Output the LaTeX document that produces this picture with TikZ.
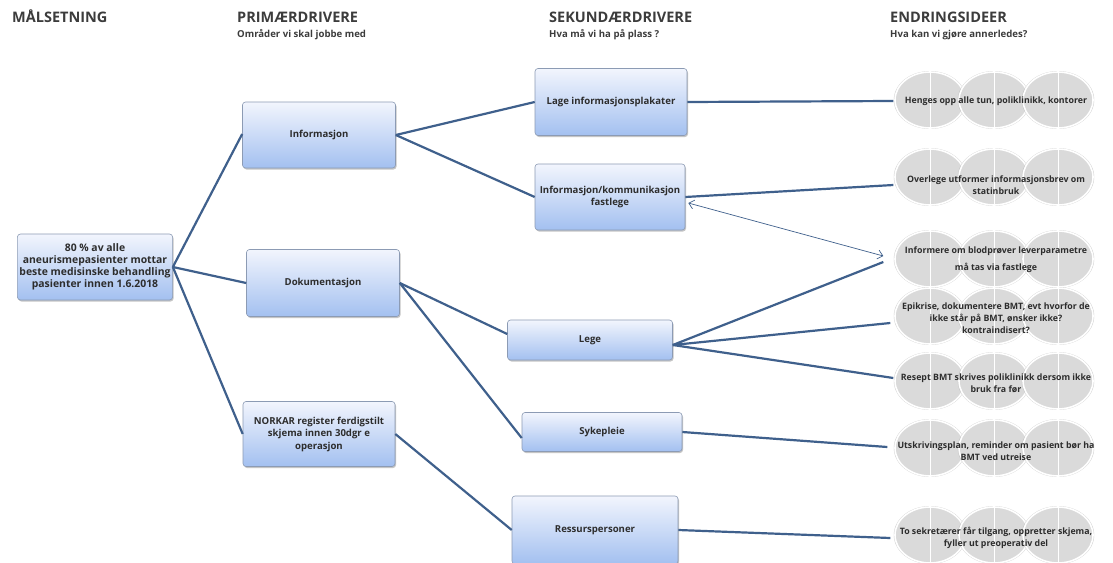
\documentclass[tikz,border=0pt]{standalone}
\usepackage{fontspec}
\setmainfont{Open Sans}
\usetikzlibrary{shapes.geometric,shadows,arrows.meta}
\definecolor{conn}{RGB}{63,96,140}
\definecolor{boxtop}{RGB}{242,245,253}
\definecolor{boxbot}{RGB}{163,192,240}
\definecolor{boxedge}{RGB}{140,155,180}
\definecolor{piefill}{RGB}{218,218,218}
\definecolor{txt}{RGB}{45,45,45}
\definecolor{hdr}{RGB}{60,60,60}
\tikzset{
  hdrtitle/.style={anchor=base west, text=hdr, inner sep=0pt, font=\bfseries\fontsize{14.5}{16}\selectfont},
  hdrsub/.style={anchor=base west, text=hdr, inner sep=0pt, font=\bfseries\fontsize{9.6}{11}\selectfont},
  drvbox/.style={rounded corners=3pt, draw=boxedge, line width=0.6pt, top color=boxtop, bottom color=boxbot,
     drop shadow={shadow xshift=1pt, shadow yshift=-1.5pt, fill=black!45, opacity=0.5},
     align=center, text=txt, inner sep=2pt, font=\bfseries\fontsize{9.6}{12.5}\selectfont},
  pie/.style={ellipse, minimum width=70pt, minimum height=56pt, inner sep=0pt, fill=piefill, draw=white, line width=1.6pt,
     drop shadow={shadow xshift=0pt, shadow yshift=0pt, shadow scale=1.035, fill=black!30, opacity=0.6}},
  idea/.style={minimum width=205pt, minimum height=54pt, inner sep=0pt, align=center, text=txt,
     font=\bfseries\fontsize{8.8}{12}\selectfont},
  link/.style={draw=conn, line width=2.2pt},
  thin/.style={draw=conn, line width=0.7pt, {Straight Barb[length=5pt,width=9pt]}-{Straight Barb[length=5pt,width=9pt]}}
}
\begin{document}
\begin{tikzpicture}[x=1pt,y=-1pt]
\useasboundingbox (0,0) rectangle (1113,562);
\fill[white] (0,0) rectangle (1113,562);

% headers
\node[hdrtitle] (h1) at (12,23) {MÅLSETNING};
\node[hdrtitle] (h2) at (237,23) {PRIMÆRDRIVERE};
\node[hdrsub] (s2) at (237,37) {Områder vi skal jobbe med};
\node[hdrtitle] (h3) at (549,23) {SEKUNDÆRDRIVERE};
\node[hdrsub] (s3) at (549,37) {Hva må vi ha på plass ?};
\node[hdrtitle] (h4) at (890,23) {ENDRINGSIDEER};
\node[hdrsub] (s4) at (890,37) {Hva kan vi gjøre annerledes?};

% idea backgrounds
\foreach \yy in {100,177,259,316,381,448,535} {
  \foreach \xx in {930,994,1058} {
    \node[pie] at (\xx,\yy) {};
    \draw[white, line width=0.9pt] (\xx,\yy-27) -- (\xx,\yy+27);
  }
}

% boxes
\node[drvbox, minimum width=150pt, minimum height=66pt, font=\bfseries\fontsize{10.4}{12}\selectfont] (goal) at (95,267)
  {80 \% av alle\\aneurismepasienter mottar\\beste medisinske behandling\\pasienter innen 1.6.2018};
\node[drvbox, minimum width=153pt, minimum height=66pt] (info) at (319,135) {Informasjon};
\node[drvbox, minimum width=153pt, minimum height=67pt] (dok) at (323,283) {Dokumentasjon};
\node[drvbox, minimum width=152pt, minimum height=65pt] (nork) at (319,434)
  {NORKAR register ferdigstilt\\skjema innen 30dgr e\\operasjon};
\node[drvbox, minimum width=152pt, minimum height=67pt] (plak) at (611,102) {Lage informasjonsplakater};
\node[drvbox, minimum width=150pt, minimum height=66pt] (fast) at (610,197) {Informasjon/kommunikasjon\\fastlege};
\node[drvbox, minimum width=165pt, minimum height=40pt] (lege) at (590,340) {Lege};
\node[drvbox, minimum width=160pt, minimum height=39pt] (syk) at (602,432) {Sykepleie};
\node[drvbox, minimum width=166pt, minimum height=68pt] (ress) at (595,530) {Ressurspersoner};

% ideas
\node[idea] (i1) at (996,101) {Henges opp alle tun, poliklinikk, kontorer};
\node[idea] (i2) at (996,185) {Overlege utformer informasjonsbrev om\\statinbruk};
\node[idea, font=\bfseries\fontsize{8.8}{17}\selectfont] (i3) at (996,260) {Informere om blodprøver leverparametre\\må tas via fastlege};
\node[idea] (i4) at (996,318) {Epikrise, dokumentere BMT, evt hvorfor de\\ikke står på BMT, ønsker ikke?\\kontraindisert?};
\node[idea] (i5) at (996,383) {Resept BMT skrives poliklinikk dersom ikke\\bruk fra før};
\node[idea] (i6) at (996,451) {Utskrivingsplan, reminder om pasient bør ha\\BMT ved utreise};
\node[idea] (i7) at (996,538) {To sekretærer får tilgang, oppretter skjema,\\fyller ut preoperativ del};

% connectors
\draw[link] (goal.east) -- ([yshift=1pt]info.west);
\draw[link] (goal.east) -- (dok.west);
\draw[link] (goal.east) -- (nork.west);
\draw[link] (info.east) -- (plak.west);
\draw[link] (info.east) -- (fast.west);
\draw[link] (dok.east) -- ([yshift=6pt]lege.west);
\draw[link] (dok.east) -- ([yshift=-6pt]syk.west);
\draw[link] (nork.east) -- (ress.west);
\draw[link] (plak.east) -- (i1.west);
\draw[link] (fast.east) -- ([yshift=0pt]i2.west);
\draw[link] ([yshift=-5pt]lege.east) -- ([xshift=-10pt,yshift=-2pt]i3.west);
\draw[link] ([yshift=-5pt]lege.east) -- ([xshift=-3pt,yshift=-5pt]i4.west);
\draw[link] ([yshift=-5pt]lege.east) -- ([yshift=5pt]i5.west);
\draw[link] (syk.east) -- ([xshift=-6pt,yshift=4pt]i6.west);
\draw[link] (ress.east) -- ([xshift=-3pt]i7.west);
\draw[thin] ([xshift=3pt,yshift=-6pt]fast.east) -- ([xshift=-10pt,yshift=4pt]i3.west);
\end{tikzpicture}
\end{document}
